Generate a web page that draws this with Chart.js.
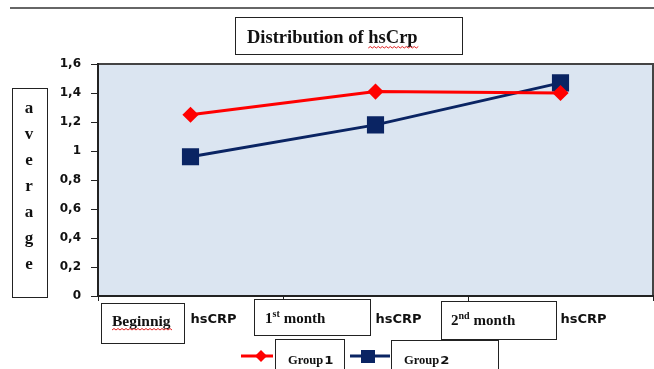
<!DOCTYPE html>
<html>
<head>
<meta charset="utf-8">
<script src="https://cdn.jsdelivr.net/npm/chart.js@4/dist/chart.umd.min.js"></script>
<style>
  html, body { margin: 0; padding: 0; background: #fff; }
</style>
</head>
<body>
<canvas id="chart" width="654" height="369"></canvas>
<script>
// data
const categories = ["Beginnig hsCRP", "1st month hsCRP", "2nd month hsCRP"];
const group1 = [1.25, 1.41, 1.40];
const group2 = [0.96, 1.18, 1.47];
const seriesNames = ["Group1", "Group2"];
const yTickValues = [0, 0.2, 0.4, 0.6, 0.8, 1, 1.2, 1.4, 1.6];
const chartTitle = "Distribution of hsCrp";
const yTitle = "average";

const RED = "#ff0000";
const NAVY = "#0a2463";
const SERIF = "'Liberation Serif', 'Times New Roman', serif";
const SANS = "'DejaVu Sans', Verdana, sans-serif";

// the text boxes laid over the category labels
const catBoxes = [
  { x: 101, y: 303, w: 83, h: 40, tx: 112, ty: 326 },
  { x: 254, y: 299, w: 116, h: 36, tx: 265, ty: 323 },
  { x: 441, y: 301, w: 115, h: 38, tx: 451, ty: 325 }
];
const legendItems = [
  { x1: 241, x2: 273, mx: 261, ly: 356, box: { x: 275, y: 339, w: 69 }, tx: 288 },
  { x1: 350, x2: 390, mx: 368, ly: 356, box: { x: 391, y: 340, w: 107 }, tx: 404 }
];

function wavy(ctx, x1, x2, y) {
  ctx.save();
  ctx.strokeStyle = "#e02020";
  ctx.lineWidth = 1;
  ctx.beginPath();
  let up = true;
  ctx.moveTo(x1, y);
  for (let x = x1 + 2; x <= x2; x += 2) {
    ctx.lineTo(x, up ? y - 1.5 : y);
    up = !up;
  }
  ctx.stroke();
  ctx.restore();
}

function box(ctx, x, y, w, h) {
  ctx.save();
  ctx.fillStyle = "#fff";
  ctx.fillRect(x, y, w, h);
  ctx.strokeStyle = "#222";
  ctx.lineWidth = 1;
  ctx.strokeRect(x + 0.5, y + 0.5, w, h);
  ctx.restore();
}

function marker(ctx, style, x, y, color) {
  ctx.save();
  ctx.fillStyle = color;
  ctx.beginPath();
  if (style === "rectRot") {
    ctx.moveTo(x - 6, y); ctx.lineTo(x, y - 6); ctx.lineTo(x + 6, y); ctx.lineTo(x, y + 6);
    ctx.closePath();
  } else {
    ctx.rect(x - 7, y - 6, 14, 13);
  }
  ctx.fill();
  ctx.restore();
}

const decorPlugin = {
  id: "decor",
  beforeDraw(chart) {
    const ctx = chart.ctx;
    const a = chart.chartArea;
    ctx.save();
    // page rule at the top
    ctx.strokeStyle = "#666";
    ctx.lineWidth = 2;
    ctx.beginPath(); ctx.moveTo(10, 8); ctx.lineTo(654, 8); ctx.stroke();
    // plot area
    ctx.fillStyle = "#dbe5f1";
    ctx.fillRect(a.left, a.top, a.right - a.left, a.bottom - a.top);
    ctx.strokeStyle = "#444";
    ctx.lineWidth = 2;
    ctx.beginPath();
    ctx.moveTo(a.left, a.top); ctx.lineTo(a.right, a.top); ctx.lineTo(a.right, a.bottom);
    ctx.stroke();
    ctx.restore();
  },
  afterDraw(chart) {
    const ctx = chart.ctx;
    ctx.save();
    ctx.textBaseline = "alphabetic";
    ctx.fillStyle = "#111";

    // title box
    box(ctx, 235, 17, 227, 37);
    ctx.font = "bold 18.5px " + SERIF;
    ctx.fillText(chartTitle, 247, 43);
    const pre = ctx.measureText(chartTitle.slice(0, chartTitle.indexOf("hs"))).width;
    wavy(ctx, 247 + pre, 247 + ctx.measureText(chartTitle).width + 2, 48);

    // vertical axis title
    box(ctx, 12, 88, 35, 209);
    ctx.font = "bold 17px " + SERIF;
    ctx.textAlign = "center";
    yTitle.split("").forEach((ch, i) => {
      ctx.fillText(ch, 29, 113 + i * 26);
    });
    ctx.textAlign = "left";

    // category text boxes
    categories.forEach((c, i) => {
      const b = catBoxes[i];
      box(ctx, b.x, b.y, b.w, b.h);
      const name = c.replace(/ hsCRP$/, "");
      const m = name.match(/^(\d)(st|nd|rd|th) (.*)$/);
      ctx.fillStyle = "#111";
      if (m) {
        ctx.font = "bold 15px " + SERIF;
        ctx.fillText(m[1], b.tx, b.ty);
        let x = b.tx + ctx.measureText(m[1]).width;
        ctx.font = "bold 10px " + SERIF;
        ctx.fillText(m[2], x, b.ty - 6);
        x += ctx.measureText(m[2]).width + 4;
        ctx.font = "bold 15px " + SERIF;
        ctx.fillText(m[3], x, b.ty);
      } else {
        ctx.font = "bold 15.5px " + SERIF;
        ctx.fillText(name, b.tx, b.ty);
        wavy(ctx, b.tx, b.tx + ctx.measureText(name).width + 2, b.ty + 4);
      }
    });

    // legend
    chart.data.datasets.forEach((ds, i) => {
      const L = legendItems[i];
      ctx.strokeStyle = ds.borderColor;
      ctx.lineWidth = 3;
      ctx.beginPath(); ctx.moveTo(L.x1, L.ly); ctx.lineTo(L.x2, L.ly); ctx.stroke();
      marker(ctx, ds.pointStyle, L.mx, L.ly, ds.borderColor);
      box(ctx, L.box.x, L.box.y, L.box.w, 40);
      ctx.fillStyle = "#111";
      const word = ds.label.slice(0, -1);
      const num = ds.label.slice(-1);
      ctx.font = "bold 12.5px " + SERIF;
      ctx.fillText(word, L.tx, 364);
      const w = ctx.measureText(word).width;
      ctx.save();
      ctx.translate(L.tx + w + 1, 364);
      ctx.scale(1.2, 1);
      ctx.font = "bold 11px " + SANS;
      ctx.fillText(num, 0, 0);
      ctx.restore();
    });
    ctx.restore();
  }
};

new Chart(document.getElementById("chart"), {
  type: "line",
  data: {
    labels: categories,
    datasets: [
      {
        label: seriesNames[0],
        data: group1,
        borderColor: RED,
        backgroundColor: RED,
        borderWidth: 3,
        pointStyle: "rectRot",
        pointRadius: 6,
        pointHoverRadius: 6,
        tension: 0
      },
      {
        label: seriesNames[1],
        data: group2,
        borderColor: NAVY,
        backgroundColor: NAVY,
        borderWidth: 3,
        pointStyle: "rect",
        pointRadius: 10,
        pointHoverRadius: 10,
        tension: 0
      }
    ]
  },
  options: {
    responsive: false,
    animation: false,
    devicePixelRatio: 1,
    layout: { autoPadding: false, padding: { left: 0, right: 1, top: 64, bottom: 0 } },
    plugins: {
      legend: { display: false },
      tooltip: { enabled: false },
      title: { display: false }
    },
    scales: {
      x: {
        type: "category",
        offset: true,
        afterFit: s => { s.height = 73; s.paddingLeft = 0; s.paddingRight = 0; },
        grid: { display: true, drawOnChartArea: false, offset: true, tickLength: 5, color: "#222", lineWidth: 1 },
        border: { display: true, color: "#222", width: 2 },
        ticks: {
          align: "start",
          padding: 11,
          color: "#111",
          font: { family: SANS, size: 13, weight: "bold" },
          callback: function (v) { return this.getLabelForValue(v).split(" ").pop(); }
        }
      },
      y: {
        min: 0,
        max: 1.6,
        afterFit: s => { s.width = 98; s.paddingTop = 0; s.paddingBottom = 0; },
        afterBuildTicks: s => { s.ticks = yTickValues.map(v => ({ value: v })); },
        grid: { display: true, drawOnChartArea: false, tickLength: 7, color: "#222", lineWidth: 1 },
        border: { display: true, color: "#222", width: 2 },
        ticks: {
          padding: 10,
          color: "#111",
          font: { family: SANS, size: 12, weight: "bold" },
          callback: v => String(Math.round(v * 10) / 10).replace(".", ",")
        }
      }
    }
  },
  plugins: [decorPlugin]
});
</script>
</body>
</html>
